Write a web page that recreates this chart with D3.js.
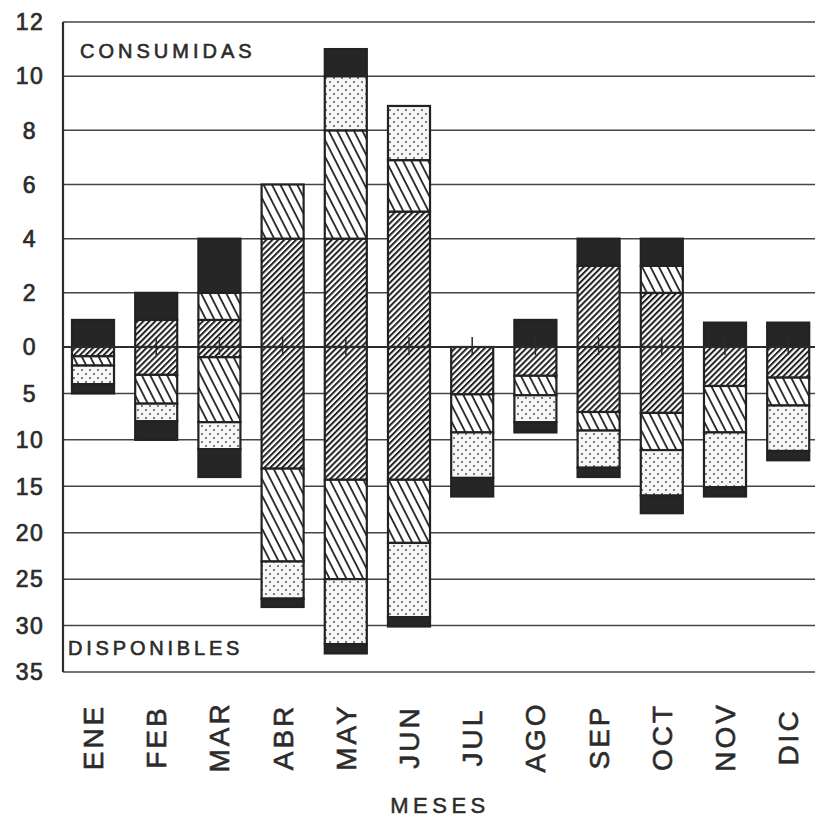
<!DOCTYPE html>
<html>
<head>
<meta charset="utf-8">
<script src="https://cdn.jsdelivr.net/npm/d3@7"></script>
<style>
  html, body { margin: 0; padding: 0; background: #fff; }
  svg { display: block; font-family: "Liberation Sans", Arial, sans-serif; }
</style>
</head>
<body>
<svg id="chart" width="815" height="818"></svg>
<script>
// months
const meses = ['ENE', 'FEB', 'MAR', 'ABR', 'MAY', 'JUN', 'JUL', 'AGO', 'SEP', 'OCT', 'NOV', 'DIC'];

// consumidas (upwards from 0), segment lengths
const consDensa    = [0, 1, 1, 4, 4, 5, 0, 0, 3, 2, 0, 0];
const consRayada   = [0, 0, 1, 2, 4, 1.9, 0, 0, 0, 1, 0, 0];
const consPunteada = [0, 0, 0, 0, 2, 2, 0, 0, 0, 0, 0, 0];
const consNegra    = [1, 1, 2, 0, 1, 0, 0, 1, 1, 1, 0.9, 0.9];

// disponibles (downwards from 0), segment lengths
const dispDensa    = [1, 3, 1.1, 13.1, 14.3, 14.3, 5.1, 3.1, 7, 7.1, 4.2, 3.3];
const dispRayada   = [1, 3.1, 7, 10, 10.7, 6.8, 4.1, 2.1, 2, 4, 5, 3];
const dispPunteada = [2, 1.9, 2.9, 4, 7, 8, 4.9, 2.9, 4, 4.9, 5.9, 4.9];
const dispNegra    = [1, 2, 3, 0.9, 1, 1, 2, 1.1, 1, 1.9, 1, 1];

// tick labels
const ticksArriba = [2, 4, 6, 8, 10, 12];
const ticksAbajo  = [5, 10, 15, 20, 25, 30, 35];

const keys = ['densa', 'rayada', 'punteada', 'negra'];
const fills = { densa: 'url(#densa)', rayada: 'url(#rayada)', punteada: 'url(#punteada)', negra: '#262626' };

const toRows = arrs => meses.map((m, i) => ({
  mes: m, densa: arrs[0][i], rayada: arrs[1][i], punteada: arrs[2][i], negra: arrs[3][i]
}));
const consRows = toRows([consDensa, consRayada, consPunteada, consNegra]);
const dispRows = toRows([dispDensa, dispRayada, dispPunteada, dispNegra]);

const svg = d3.select('#chart');
const ink = '#2b2b2b';

const plotLeft = 63, plotTop = 22, zeroY = 347, plotBottom = 672, plotRight = 815;

const x = d3.scaleBand()
  .domain(meses)
  .range([61.4, 819.8])
  .paddingInner(0.335)
  .paddingOuter(0.1675);

const yUp = d3.scaleLinear().domain([0, 12]).range([zeroY, plotTop]);
const yDown = d3.scaleLinear().domain([0, 35]).range([zeroY, plotBottom]);

// patterns
const defs = svg.append('defs');
const densa = defs.append('pattern')
  .attr('id', 'densa').attr('patternUnits', 'userSpaceOnUse')
  .attr('width', 4.2).attr('height', 10)
  .attr('patternTransform', 'rotate(45)');
densa.append('rect').attr('width', 4.2).attr('height', 10).attr('fill', '#fff');
densa.append('line').attr('x1', 1).attr('x2', 1).attr('y1', 0).attr('y2', 10)
  .attr('stroke', '#222').attr('stroke-width', 2);

const rayada = defs.append('pattern')
  .attr('id', 'rayada').attr('patternUnits', 'userSpaceOnUse')
  .attr('width', 7.5).attr('height', 10)
  .attr('patternTransform', 'rotate(-27)');
rayada.append('rect').attr('width', 7.5).attr('height', 10).attr('fill', '#fff');
rayada.append('line').attr('x1', 1).attr('x2', 1).attr('y1', 0).attr('y2', 10)
  .attr('stroke', '#222').attr('stroke-width', 1.8);

const punteada = defs.append('pattern')
  .attr('id', 'punteada').attr('patternUnits', 'userSpaceOnUse')
  .attr('width', 8).attr('height', 8);
punteada.append('rect').attr('width', 8).attr('height', 8).attr('fill', '#f6f6f6');
punteada.append('circle').attr('cx', 2).attr('cy', 2).attr('r', 1).attr('fill', '#555');
punteada.append('circle').attr('cx', 6).attr('cy', 6).attr('r', 1).attr('fill', '#555');

// grid
const grid = svg.append('g').attr('stroke', '#444').attr('stroke-width', 1.5);
grid.selectAll('line.up').data(ticksArriba).join('line')
  .attr('x1', plotLeft).attr('x2', plotRight)
  .attr('y1', d => yUp(d)).attr('y2', d => yUp(d));
grid.selectAll('line.down').data(ticksAbajo).join('line')
  .attr('x1', plotLeft).attr('x2', plotRight)
  .attr('y1', d => yDown(d)).attr('y2', d => yDown(d));

svg.append('line')
  .attr('x1', plotLeft).attr('x2', plotLeft).attr('y1', plotTop).attr('y2', plotBottom)
  .attr('stroke', ink).attr('stroke-width', 2.2);

// bars
const stack = d3.stack().keys(keys);
const drawStack = (rows, y) => {
  svg.append('g')
    .selectAll('g')
    .data(stack(rows))
    .join('g')
      .attr('fill', d => fills[d.key])
    .selectAll('rect')
    .data(d => d.filter(s => s[1] - s[0] > 0))
    .join('rect')
      .attr('x', d => x(d.data.mes))
      .attr('width', x.bandwidth())
      .attr('y', d => Math.min(y(d[0]), y(d[1])))
      .attr('height', d => Math.abs(y(d[1]) - y(d[0])))
      .attr('stroke', '#222')
      .attr('stroke-width', 2.2);
};
drawStack(consRows, yUp);
drawStack(dispRows, yDown);

// zero line over the bars
svg.append('line')
  .attr('x1', plotLeft).attr('x2', plotRight).attr('y1', zeroY).attr('y2', zeroY)
  .attr('stroke', ink).attr('stroke-width', 2.2);

// small centre marks at zero
svg.append('g').selectAll('line')
  .data(meses.slice(1))
  .join('line')
    .attr('x1', d => x(d) + x.bandwidth() / 2)
    .attr('x2', d => x(d) + x.bandwidth() / 2)
    .attr('y1', zeroY - 10).attr('y2', zeroY + 8)
    .attr('stroke', ink).attr('stroke-width', 1.5);

// y tick labels
const tickLab = svg.append('g')
  .attr('font-size', 23).attr('fill', ink).attr('text-anchor', 'middle')
  .attr('stroke', ink).attr('stroke-width', 0.7)
  .attr('letter-spacing', 1.5);
tickLab.selectAll('text.up').data([0].concat(ticksArriba)).join('text')
  .attr('x', 30).attr('y', d => yUp(d)).attr('dy', '0.36em').text(d => d);
tickLab.selectAll('text.down').data(ticksAbajo).join('text')
  .attr('x', 30).attr('y', d => yDown(d)).attr('dy', '0.36em').text(d => d);

// month labels
svg.append('g')
  .attr('font-size', 28).attr('fill', ink).attr('text-anchor', 'middle')
  .attr('stroke', ink).attr('stroke-width', 0.6)
  .attr('letter-spacing', 3)
  .selectAll('text').data(meses).join('text')
    .attr('transform', d => `translate(${x(d) + x.bandwidth() / 2 + 10},737) rotate(-90)`)
    .text(d => d);

svg.append('text')
  .attr('x', 440).attr('y', 813).attr('text-anchor', 'middle')
  .attr('font-size', 22).attr('letter-spacing', 4.5).attr('fill', ink)
  .attr('stroke', ink).attr('stroke-width', 0.5)
  .text('MESES');

svg.append('text')
  .attr('x', 80).attr('y', 58)
  .attr('font-size', 20).attr('letter-spacing', 4).attr('fill', ink)
  .attr('stroke', ink).attr('stroke-width', 0.6)
  .text('CONSUMIDAS');

svg.append('text')
  .attr('x', 68).attr('y', 655)
  .attr('font-size', 20).attr('letter-spacing', 3.8).attr('fill', ink)
  .attr('stroke', ink).attr('stroke-width', 0.6)
  .text('DISPONIBLES');
</script>
</body>
</html>
